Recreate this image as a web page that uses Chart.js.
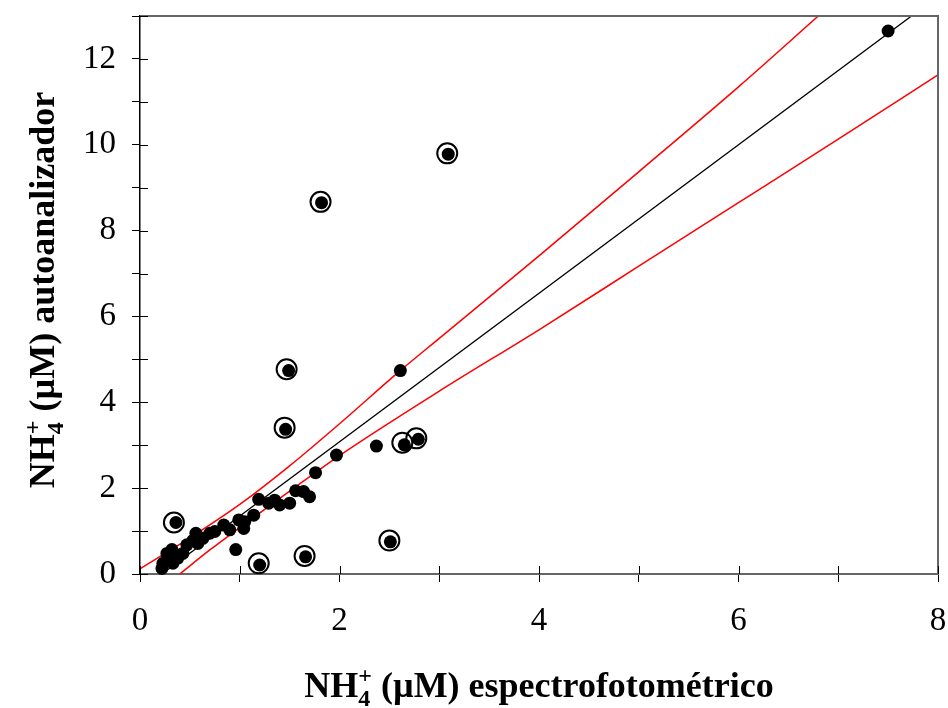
<!DOCTYPE html>
<html>
<head>
<meta charset="utf-8">
<script src="https://cdn.jsdelivr.net/npm/chart.js@4/dist/chart.umd.min.js"></script>
<style>
  body { margin: 0; background: #fff; }
  #wrap { width: 948px; height: 708px; }
</style>
</head>
<body>
<div id="wrap"><canvas id="chart" width="948" height="708"></canvas></div>
<script>
// filled points (espectrofotometrico vs autoanalizador)
const dotX = [0.22, 0.23, 0.27, 0.30, 0.32, 0.33, 0.38, 0.43, 0.47, 0.53, 0.56, 0.58, 0.63, 0.70, 0.75,
              0.84, 0.90, 0.99, 1.04, 1.05, 1.14, 1.19, 1.29, 1.35, 1.40, 1.50, 1.56, 1.64, 1.70, 1.76,
              1.97, 2.37, 2.61, 2.65, 2.79, 0.36, 0.96, 1.20, 1.66, 2.51, 1.46, 1.49, 1.82, 3.09, 7.50];
const dotY = [0.13, 0.25, 0.48, 0.33, 0.57, 0.25, 0.37, 0.48, 0.68, 0.78, 0.95, 0.71, 0.83, 0.95, 0.99,
              1.14, 1.03, 1.26, 1.06, 1.22, 1.37, 1.74, 1.65, 1.72, 1.61, 1.65, 1.94, 1.92, 1.80, 2.36,
              2.77, 2.98, 4.74, 3.01, 3.14, 1.20, 0.57, 0.21, 0.40, 0.75, 3.37, 4.74, 8.65, 9.78, 12.65];

// open rings marking the outliers
const ringX = [0.34, 1.19, 1.65, 2.50, 1.45, 1.47, 1.81, 3.08, 2.63, 2.77];
const ringY = [1.20, 0.25, 0.42, 0.78, 3.41, 4.77, 8.67, 9.80, 3.06, 3.16];

// regression line and its bands (red)
const fitX = [0, 8];
const fitY = [-0.38, 13.46];
const upperX = [0, 0.5, 1.0, 1.5, 2.0, 2.6, 3.0, 4.0, 5.0, 6.0, 6.8];
const upperY = [0.12, 0.84, 1.62, 2.52, 3.50, 4.72, 5.49, 7.41, 9.37, 11.35, 13.0];
const lowerX = [0.4, 0.7, 1.0, 1.5, 2.0, 3.0, 4.0, 5.0, 6.0, 7.0, 8.0];
const lowerY = [0.0, 0.56, 1.08, 1.93, 2.76, 4.26, 5.69, 7.17, 8.65, 10.13, 11.63];

const xTicks = [0, 2, 4, 6, 8];
const yTicks = [0, 2, 4, 6, 8, 10, 12];

const pts = (xs, ys) => xs.map((x, i) => ({ x: x, y: ys[i] }));
const SERIF = '"Liberation Serif", "Times New Roman", serif';

// NH4+ with stacked super/subscript
function drawNhTitle(ctx, rest, cx, baseY) {
    const big = 'bold 36px ' + SERIF;
    const small = 'bold 24px ' + SERIF;
    ctx.font = big;
    const wNH = ctx.measureText('NH').width;
    const wRest = ctx.measureText(rest).width;
    ctx.font = small;
    const wSS = Math.max(ctx.measureText('+').width, ctx.measureText('4').width);
    let x = cx - (wNH + wSS + wRest) / 2;
    ctx.fillStyle = '#000';
    ctx.textAlign = 'left';
    ctx.textBaseline = 'alphabetic';
    ctx.font = big;
    ctx.fillText('NH', x, baseY);
    x += wNH;
    ctx.font = small;
    ctx.fillText('+', x, baseY - 14);
    ctx.fillText('4', x, baseY + 9);
    x += wSS;
    ctx.font = big;
    ctx.fillText(rest, x, baseY);
}

const framePlugin = {
    id: 'frame',
    afterDraw(chart) {
        const { ctx, chartArea: a, scales } = chart;
        ctx.save();
        // top and right border
        ctx.strokeStyle = '#666';
        ctx.lineWidth = 2;
        ctx.beginPath();
        ctx.moveTo(a.left, a.top);
        ctx.lineTo(a.right, a.top);
        ctx.lineTo(a.right, a.bottom);
        ctx.stroke();
        // inner half of the crossing tick marks
        ctx.strokeStyle = '#000';
        ctx.lineWidth = 1;
        ctx.beginPath();
        scales.x.ticks.forEach(t => {
            const px = Math.round(scales.x.getPixelForValue(t.value)) + 0.5;
            ctx.moveTo(px, a.bottom);
            ctx.lineTo(px, a.bottom - 8);
        });
        scales.y.ticks.forEach(t => {
            const py = Math.round(scales.y.getPixelForValue(t.value)) + 0.5;
            ctx.moveTo(a.left, py);
            ctx.lineTo(a.left + 8, py);
        });
        ctx.stroke();
        // axis titles
        drawNhTitle(ctx, ' (\u00B5M) espectrofotom\u00E9trico', (a.left + a.right) / 2, 697);
        ctx.translate(54, 290);
        ctx.rotate(-Math.PI / 2);
        drawNhTitle(ctx, ' (\u00B5M) autoanalizador', 0, 0);
        ctx.restore();
    }
};

const tickFont = { family: SERIF, size: 33 };

new Chart(document.getElementById('chart'), {
    type: 'scatter',
    data: {
        datasets: [
            {
                data: pts(dotX, dotY),
                backgroundColor: '#000',
                borderColor: '#000',
                pointRadius: 6.5,
                borderWidth: 0,
                clip: false
            },
            {
                data: pts(ringX, ringY),
                backgroundColor: 'rgba(0,0,0,0)',
                borderColor: '#000',
                pointRadius: 10,
                borderWidth: 2,
                clip: false
            },
            {
                data: pts(fitX, fitY),
                showLine: true,
                borderColor: '#000',
                borderWidth: 1.3,
                pointRadius: 0
            },
            {
                data: pts(upperX, upperY),
                showLine: true,
                borderColor: '#ff0000',
                borderWidth: 1.5,
                pointRadius: 0,
                cubicInterpolationMode: 'monotone'
            },
            {
                data: pts(lowerX, lowerY),
                showLine: true,
                borderColor: '#ff0000',
                borderWidth: 1.5,
                pointRadius: 0,
                cubicInterpolationMode: 'monotone'
            }
        ]
    },
    options: {
        responsive: false,
        animation: false,
        devicePixelRatio: 1,
        layout: { autoPadding: false, padding: { left: 0, right: 10, top: 16, bottom: 0 } },
        plugins: { legend: { display: false }, tooltip: { enabled: false } },
        scales: {
            x: {
                type: 'linear',
                min: 0,
                max: 8,
                afterFit: s => {
                    s.height = 134;
                    s.paddingLeft = 0;
                    s.paddingRight = 0;
                },
                ticks: {
                    stepSize: 1,
                    color: '#000',
                    font: tickFont,
                    padding: 20,
                    maxRotation: 0,
                    callback: v => xTicks.includes(v) ? v : ''
                },
                grid: { drawOnChartArea: false, tickLength: 8, color: '#000', lineWidth: 1 },
                border: { color: '#666', width: 2 }
            },
            y: {
                type: 'linear',
                min: 0,
                max: 13,
                afterFit: s => {
                    s.width = 140;
                    s.paddingTop = 0;
                    s.paddingBottom = 0;
                },
                ticks: {
                    stepSize: 1,
                    color: '#000',
                    font: tickFont,
                    padding: 16,
                    callback: v => yTicks.includes(v) ? v : ''
                },
                grid: { drawOnChartArea: false, tickLength: 8, color: '#000', lineWidth: 1 },
                border: { color: '#000', width: 1.5 }
            }
        }
    },
    plugins: [framePlugin]
});
</script>
</body>
</html>
